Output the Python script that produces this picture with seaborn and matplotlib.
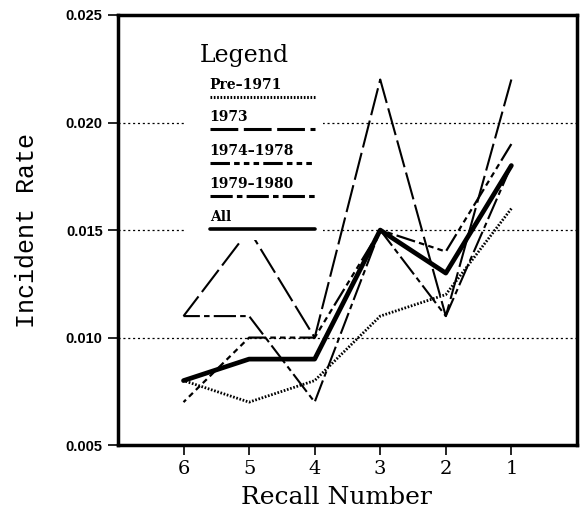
import numpy as np
import pandas as pd
import seaborn as sns
import matplotlib
matplotlib.use("Agg")
import matplotlib.pyplot as plt
from matplotlib.patches import Rectangle

# data
recall = [6, 5, 4, 3, 2, 1]
pre1971 = [0.008, 0.007, 0.008, 0.011, 0.012, 0.016]
y1973 = [0.011, 0.015, 0.010, 0.022, 0.011, 0.022]
y1974_78 = [0.007, 0.010, 0.010, 0.015, 0.014, 0.019]
y1979_80 = [0.011, 0.011, 0.007, 0.015, 0.011, 0.018]
all_years = [0.008, 0.009, 0.009, 0.015, 0.013, 0.018]
labels = ["Pre\u20131971", "1973", "1974\u20131978", "1979\u20131980", "All"]
yticks = [0.005, 0.010, 0.015, 0.020, 0.025]

sns.set_style("white")
plt.rcParams["lines.scale_dashes"] = False
plt.rcParams["font.family"] = ["DejaVu Serif"]
plt.rcParams["text.color"] = "black"
plt.rcParams["axes.labelcolor"] = "black"
plt.rcParams["xtick.color"] = "black"
plt.rcParams["ytick.color"] = "black"

series = [pre1971, y1973, y1974_78, y1979_80, all_years]
styles = [
    dict(linestyle=(0, (1.2, 1.2)), linewidth=2.0, dash_capstyle="butt"),
    dict(linestyle=(0, (20, 4)), linewidth=1.5),
    dict(linestyle=(0, (14, 3, 4, 3, 4, 3, 4, 3)), linewidth=1.6),
    dict(linestyle=(0, (16, 3, 4, 3)), linewidth=1.5),
    dict(linestyle="-", linewidth=3.4),
]

frames = []
for lab, vals in zip(labels, series):
    frames.append(pd.DataFrame({"recall": recall, "rate": vals, "group": lab}))
df = pd.concat(frames)

fig = plt.figure(figsize=(5.81, 5.17), dpi=100)
ax = fig.add_axes([0.203, 0.139, 0.79, 0.832])

for lab, st in zip(labels, styles):
    sns.lineplot(data=df[df["group"] == lab], x="recall", y="rate", ax=ax,
                 color="black", zorder=2, legend=False, **st)

ax.set_xlim(7, 0)
ax.set_ylim(0.005, 0.025)
ax.set_xticks(recall)
ax.set_xticklabels([str(r) for r in recall], fontsize=14)
ax.set_yticks(yticks)
ax.set_yticklabels(["%.3f" % v for v in yticks], fontsize=10.5, fontweight="bold",
                   family=["Liberation Sans", "DejaVu Sans"])
ax.tick_params(axis="both", direction="out", length=7, width=1.2, color="black",
               left=True, bottom=True)
ax.tick_params(axis="y", pad=4)
ax.tick_params(axis="x", pad=4)

for v in yticks[1:-1]:
    ax.axhline(v, color="black", linestyle=(0, (1.5, 2)), linewidth=0.9, zorder=0)

for side in ["left", "bottom", "top", "right"]:
    ax.spines[side].set_visible(True)
    ax.spines[side].set_color("black")
    ax.spines[side].set_linewidth(2.5)

ax.set_xlabel("Recall Number", fontsize=18)
ax.set_ylabel("Incident Rate", fontsize=18, family="Liberation Mono")
ax.xaxis.set_label_coords(0.475, -0.094)
ax.yaxis.set_label_coords(-0.172, 0.5)

# hand drawn legend block inside the axes
ax.add_patch(Rectangle((0.146, 0.477), 0.30, 0.49, transform=ax.transAxes,
                       facecolor="white", edgecolor="none", zorder=3))
ax.text(0.178, 0.905, "Legend", transform=ax.transAxes, fontsize=17,
        va="center", ha="left", zorder=4)
line_y = [0.809, 0.735, 0.656, 0.579, 0.502]
for lab, st, ly in zip(labels, styles, line_y):
    ax.text(0.200, ly + 0.012, lab, transform=ax.transAxes, fontsize=10,
            fontweight="bold", va="bottom", ha="left", zorder=4)
    lw = st["linewidth"]
    ax.plot([0.200, 0.430], [ly, ly], transform=ax.transAxes, color="black",
            linestyle=st["linestyle"], linewidth=max(lw, 2.2) if lab != "All" else 2.6,
            zorder=4)

fig.savefig("out.png", dpi=100)
